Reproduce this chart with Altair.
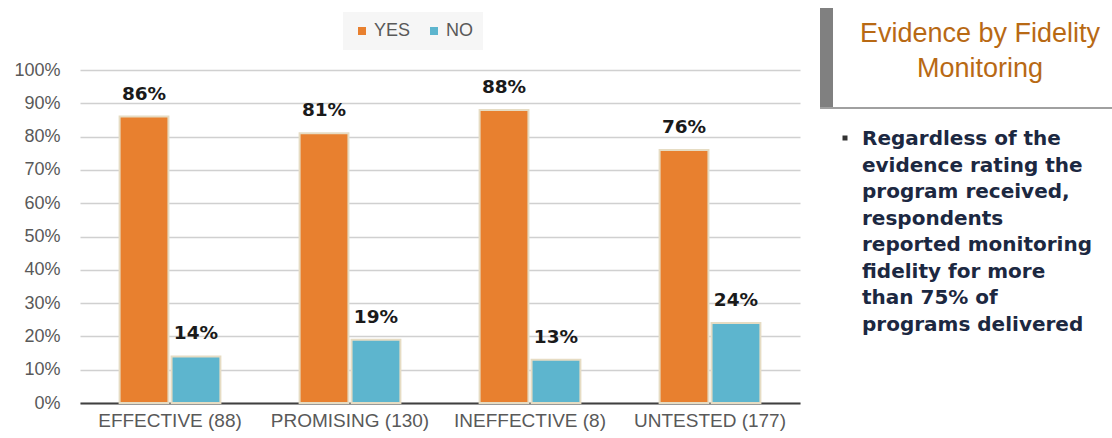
import altair as alt
import pandas as pd

categories = ["EFFECTIVE (88)", "PROMISING (130)", "INEFFECTIVE (8)", "UNTESTED (177)"]
series = ["YES", "NO"]
yes_values = [0.86, 0.81, 0.88, 0.76]
no_values = [0.14, 0.19, 0.13, 0.24]
colors = ["#E8802F", "#5DB5CE"]
y_ticks = [0, 0.1, 0.2, 0.3, 0.4, 0.5, 0.6, 0.7, 0.8, 0.9, 1.0]

title_lines = ["Evidence by Fidelity", "Monitoring"]
bullet_lines = [
    "Regardless of the",
    "evidence rating the",
    "program received,",
    "respondents",
    "reported monitoring",
    "fidelity for more",
    "than 75% of",
    "programs delivered",
]

rows = []
for c, y, n in zip(categories, yes_values, no_values):
    rows.append({"category": c, "series": "YES", "value": y})
    rows.append({"category": c, "series": "NO", "value": n})
df = pd.DataFrame(rows)

base = alt.Chart(df)

x_enc = alt.X(
    "category:N",
    sort=categories,
    scale=alt.Scale(paddingInner=0.44, paddingOuter=0.22),
    axis=alt.Axis(
        title=None, labelAngle=0, domain=True, domainColor="#404040", domainWidth=2,
        ticks=False, grid=False, labelFont="Liberation Sans", labelFontSize=19,
        labelColor="#595959", labelPadding=8, labelLimit=300,
    ),
)
xoff_enc = alt.XOffset("series:N", sort=series, scale=alt.Scale(paddingInner=0.06))
y_enc = alt.Y(
    "value:Q",
    scale=alt.Scale(domain=[0, 1]),
    axis=alt.Axis(
        title=None, format="%", values=y_ticks, domain=False, ticks=False, tickSize=0,
        gridColor="#d0d0d0", gridWidth=1.5, labelFont="Liberation Sans",
        labelFontSize=18, labelColor="#595959", labelPadding=20, labelOverlap=False,
    ),
)

bars = base.mark_bar(stroke="#E6DCC3", strokeWidth=2).encode(
    x=x_enc,
    xOffset=xoff_enc,
    y=y_enc,
    color=alt.Color(
        "series:N",
        sort=series,
        scale=alt.Scale(domain=series, range=colors),
        legend=alt.Legend(
            title=None, orient="none", legendX=263, legendY=-58, direction="horizontal",
            symbolType="square", symbolSize=64, symbolStrokeWidth=0,
            labelFont="Liberation Sans", labelFontSize=18, labelColor="#595959",
            labelOffset=3, columnPadding=14, fillColor="#f6f6f6", padding=10,
        ),
    ),
)

labels = base.mark_text(
    baseline="alphabetic", dy=-17, font="DejaVu Sans", fontWeight="bold",
    fontSize=18.5, color="#1a1a1a",
).encode(
    x=x_enc,
    xOffset=xoff_enc,
    y=y_enc,
    text=alt.Text("value:Q", format=".0%"),
)

one = alt.Data(values=[{"k": 1}])

vbar = alt.Chart(one).mark_rect(color="#808080").encode(
    x=alt.value(740), x2=alt.value(753), y=alt.value(-62), y2=alt.value(38)
)
hline = alt.Chart(one).mark_rule(color="#a0a0a0", strokeWidth=2).encode(
    x=alt.value(740), x2=alt.value(1032), y=alt.value(38)
)
title_text = alt.Chart(one).mark_text(
    text=title_lines, font="Liberation Sans", fontSize=27, color="#B86914",
    align="center", baseline="alphabetic", lineHeight=35,
).encode(x=alt.value(900), y=alt.value(-28))
bullet_sq = alt.Chart(one).mark_square(size=25, color="#333333", opacity=1).encode(
    x=alt.value(765), y=alt.value(68)
)
bullet_text = alt.Chart(one).mark_text(
    text=bullet_lines, font="DejaVu Sans", fontWeight="bold", fontSize=20,
    color="#1c2841", align="left", baseline="alphabetic", lineHeight=26.5,
).encode(x=alt.value(782), y=alt.value(75))

chart = (
    alt.layer(bars, labels, vbar, hline, title_text, bullet_sq, bullet_text)
    .properties(
        width=720, height=333,
        autosize=alt.AutoSizeParams(type="none"),
        padding={"left": 80, "top": 70, "right": 312, "bottom": 35},
        background="white",
    )
    .configure_view(stroke=None)
    .configure_axisY(labelOverlap=False)
)

chart.save("out.html", embed_options={"renderer": "svg", "actions": False})
